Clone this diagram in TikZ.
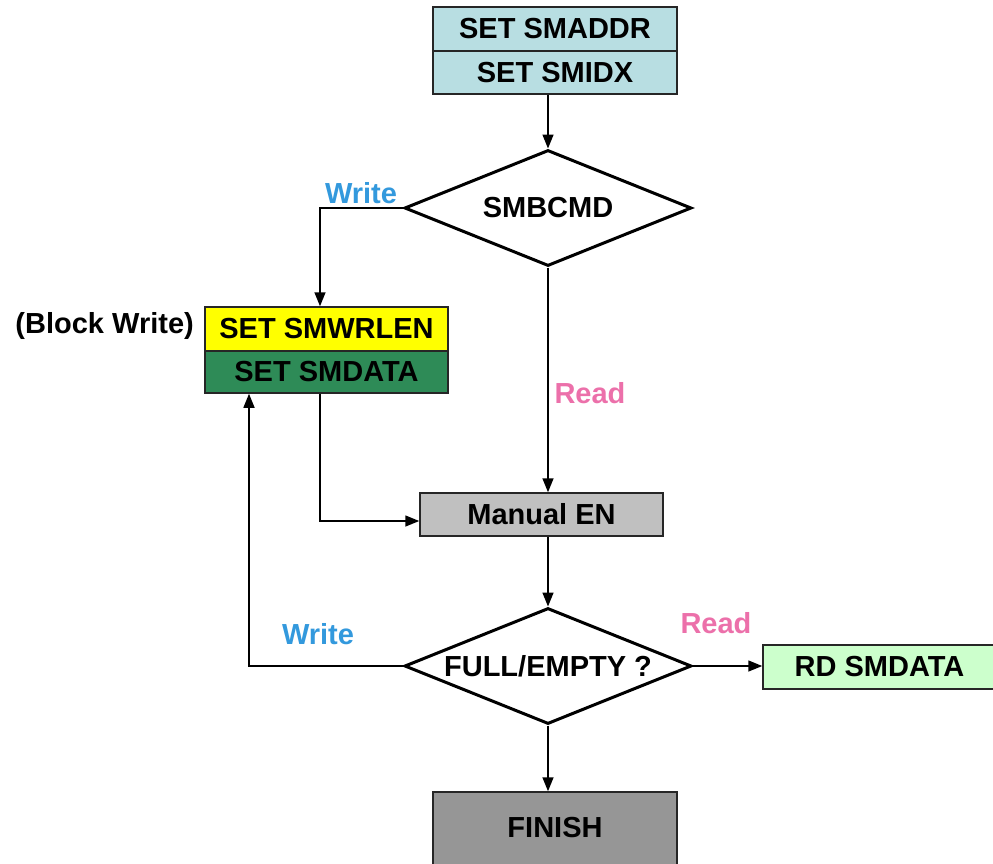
\documentclass[tikz,border=0pt]{standalone}
\usepackage{fontspec}
\setmainfont{Liberation Sans}
\usetikzlibrary{shapes.geometric,arrows.meta}
\definecolor{topblue}{RGB}{184,222,226}
\definecolor{wryellow}{RGB}{255,255,0}
\definecolor{datagreen}{RGB}{46,139,87}
\definecolor{engray}{RGB}{192,192,192}
\definecolor{rdgreen}{RGB}{204,255,204}
\definecolor{fingray}{RGB}{150,150,150}
\definecolor{wblue}{RGB}{51,153,221}
\definecolor{rpink}{RGB}{236,112,170}
\begin{document}
\begin{tikzpicture}[x=1pt,y=-1pt,
  txt/.style={font=\bfseries\fontsize{29}{31}\selectfont},
  box/.style={draw=black!85,line width=1.5pt,rectangle,inner sep=0pt,txt},
  dec/.style={draw=black,line width=3pt,diamond,aspect=2.47,inner sep=0pt,
      minimum width=287pt,minimum height=116pt,txt},
  conn/.style={line width=1.5pt,-{Triangle[length=14pt,width=11pt]}},
  lblw/.style={txt,text=wblue},
  lblr/.style={txt,text=rpink}]
\useasboundingbox (0,0) rectangle (993,863);
\fill[white] (0,0) rectangle (993,863);
% top boxes
\node[box,fill=topblue,minimum width=244pt,minimum height=44pt] (smaddr) at (555,29) {SET SMADDR};
\node[box,fill=topblue,minimum width=244pt,minimum height=43pt] (smidx) at (555,72.5) {SET SMIDX};
% decision 1
\node[dec] (cmd) at (548,208) {SMBCMD};
% block write boxes
\node[box,fill=wryellow,minimum width=243pt,minimum height=44pt] (wrlen) at (326.5,329) {SET SMWRLEN};
\node[box,fill=datagreen,minimum width=243pt,minimum height=42pt] (smdata) at (326.5,372) {SET SMDATA};
\node[txt,anchor=east,inner sep=0pt] (blk) at (194,326) {(Block Write)};
% manual EN
\node[box,fill=engray,minimum width=243pt,minimum height=43pt] (men) at (541.5,514.5) {Manual EN};
% decision 2
\node[dec] (full) at (548,666) {FULL/EMPTY ?};
% read data
\node[box,fill=rdgreen,minimum width=233pt,minimum height=44pt] (rd) at (879.5,667) {RD SMDATA};
% finish
\node[box,fill=fingray,minimum width=244pt,minimum height=100pt] (finish) at (555,842) {};
\node[txt,inner sep=0pt] (fintxt) at (555,828) {FINISH};
% labels
\node[lblw,inner sep=0pt] (w1) at (361,193) {Write};
\node[lblr,inner sep=0pt] (r1) at (590,393) {Read};
\node[lblw,inner sep=0pt] (w2) at (318,634) {Write};
\node[lblr,inner sep=0pt] (r2) at (716,623) {Read};
% connectors
\draw[conn] (smidx.south -| cmd.north) -- (cmd.north);
\draw[conn] (cmd.west) -| ([xshift=-6.5pt]wrlen.north);
\draw[conn] ([xshift=-6.5pt]smdata.south) |- ([yshift=-6.5pt]men.west);
\draw[conn] (cmd.south) -- (cmd.south |- men.north);
\draw[conn] (men.south -| full.north) -- (full.north);
\draw[conn] (full.west) -| ([xshift=-77.5pt]smdata.south);
\draw[conn] (full.east) -- (full.east -| rd.west);
\draw[conn] (full.south) -- (full.south |- finish.north);
\end{tikzpicture}
\end{document}
